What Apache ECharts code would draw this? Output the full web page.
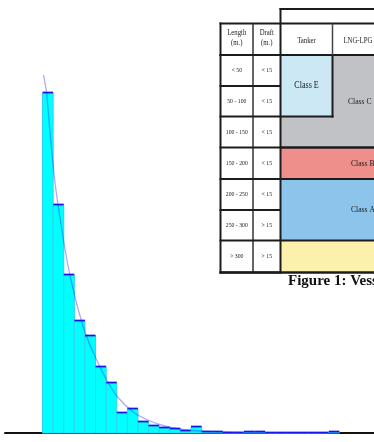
<!DOCTYPE html>
<html>
<head>
<meta charset="utf-8">
<script src="https://cdn.jsdelivr.net/npm/echarts@6/dist/echarts.min.js"></script>
<style>
  html, body { margin: 0; padding: 0; background: #fff; }
  #chart { width: 374px; height: 442px; }
</style>
</head>
<body>
<div id="chart"></div>
<script>
// Histogram bins: left edge of the first bin and bin width (axis units)
const binStart = 3.54;
const binWidth = 1;
const binCounts = [340, 228, 158, 112, 97, 66, 50, 20, 24, 11, 7, 5, 4, 2, 6, 1, 1, 0, 0, 1, 1, 0, 0, 0, 0, 0, 0, 1];

// Fitted density curve, sampled points
const fitX = [3.63, 3.92, 4.25, 4.72, 5.19, 5.82, 6.29, 6.92, 7.71, 8.65, 9.59, 10.54, 12.08, 13.68, 15.25, 17.14, 19.34, 23.11, 27.83, 31.6];
const fitY = [358, 340, 300, 250, 215, 174, 150, 123, 96, 73, 53, 37, 21, 12, 6.5, 3, 1.5, 0.5, 0.2, 0.1];

// Vessel class table
const headerLength = ['Length', '(m.)'];
const headerDraft = ['Draft', '(m.)'];
const headerTypes = ['Tanker', 'LNG-LPG'];
const lengthRanges = ['< 50', '50 - 100', '100 - 150', '150 - 200', '200 - 250', '250 - 300', '> 300'];
const draftRanges = ['< 15', '< 15', '< 15', '< 15', '< 15', '> 15', '> 15'];
const classNames = ['Class E', 'Class C', 'Class B', 'Class A'];
const captionText = 'Figure 1: Vessel classes';

const barData = binCounts.map((c, i) => [binStart + i * binWidth, binStart + (i + 1) * binWidth, c]);
const fitData = fitX.map((x, i) => [x, fitY[i]]);

// ---- table drawing helpers ----
const LINE = '#1c1c1c';
const SERIF = '"Liberation Serif", "DejaVu Serif", serif';
function box(x, y, w, h, fill) {
  return { type: 'rect', z: 100, shape: { x: x, y: y, width: w, height: h }, style: { fill: fill } };
}
function hline(x1, x2, y, w, color) {
  return { type: 'line', z: 102, shape: { x1: x1, y1: y, x2: x2, y2: y }, style: { stroke: color || LINE, lineWidth: w } };
}
function vline(x, y1, y2, w, color) {
  return { type: 'line', z: 102, shape: { x1: x, y1: y1, x2: x, y2: y2 }, style: { stroke: color || LINE, lineWidth: w } };
}
function label(x, y, text, size, opts) {
  opts = opts || {};
  return {
    type: 'text', z: 104, x: x, y: y, scaleX: opts.scaleX || 0.9,
    style: {
      text: text, x: 0, y: 0,
      font: (opts.bold ? 'bold ' : '') + size + 'px ' + SERIF,
      fill: opts.color || '#1a1a1a',
      align: opts.align || 'center', verticalAlign: 'middle'
    }
  };
}

const rowY = [55, 86, 116.5, 147.5, 179, 210, 240.5, 272.5];

const tableEls = [];
// backgrounds
tableEls.push(box(219, 8, 161, 266, '#ffffff'));
tableEls.push(box(280.5, 55, 100, 92.5, '#c1c2c6'));          // Class C
tableEls.push(box(280.5, 55, 52, 61.5, '#cce8f4'));           // Class E
tableEls.push(box(280.5, 147.5, 100, 31.5, '#ef8f8b'));       // Class B
tableEls.push(box(280.5, 179, 100, 61.5, '#8dc4eb'));         // Class A
tableEls.push(box(280.5, 240.5, 100, 32, '#fbf1ac'));         // largest class
// frame lines
tableEls.push(hline(279.5, 380, 9, 2));
tableEls.push(vline(280.5, 8, 273.5, 2));
tableEls.push(hline(219.5, 380, 23.5, 2));
tableEls.push(hline(219.5, 380, 55, 2));
tableEls.push(vline(220.5, 22.5, 273.5, 2));
tableEls.push(vline(253, 23.5, 272.5, 1.5, '#333'));
tableEls.push(vline(332.5, 23.5, 55, 1.5, '#444'));
rowY.forEach(y => tableEls.push(hline(219.5, 281, y, 2)));
tableEls.push(vline(332.5, 55, 117.5, 2));
tableEls.push(hline(280.5, 333.5, 116.5, 2));
tableEls.push(hline(280.5, 380, 147.5, 2.5));
tableEls.push(hline(280.5, 380, 179, 2));
tableEls.push(hline(280.5, 380, 240.5, 2));
tableEls.push(hline(219.5, 380, 272.5, 2.5));
// header texts
tableEls.push(label(236.8, 33.5, headerLength[0], 7.5));
tableEls.push(label(236.8, 43.5, headerLength[1], 7.5));
tableEls.push(label(266.8, 33.5, headerDraft[0], 7.5));
tableEls.push(label(266.8, 43.5, headerDraft[1], 7.5));
tableEls.push(label(306.5, 41, headerTypes[0], 7.5));
tableEls.push(label(343.5, 41, headerTypes[1], 7.5, { align: 'left' }));
// row texts
lengthRanges.forEach((t, i) => {
  const cy = (rowY[i] + rowY[i + 1]) / 2;
  tableEls.push(label(236.8, cy, t, 7, { scaleX: 0.82 }));
  tableEls.push(label(266.8, cy, draftRanges[i], 7, { scaleX: 0.82 }));
});
// class names
tableEls.push(label(306.5, 85, classNames[0], 9.5, { scaleX: 0.85 }));
tableEls.push(label(348, 101.5, classNames[1], 9, { align: 'left', scaleX: 0.85 }));
tableEls.push(label(351, 163.5, classNames[2], 9, { align: 'left', scaleX: 0.85 }));
tableEls.push(label(351, 210, classNames[3], 9, { align: 'left', scaleX: 0.85 }));
// caption
tableEls.push(label(288, 281.5, captionText, 14, { align: 'left', bold: true, scaleX: 1.07, color: '#111' }));

const chart = echarts.init(document.getElementById('chart'), null, { renderer: 'canvas' });
chart.setOption({
  animation: false,
  backgroundColor: '#ffffff',
  grid: { left: 5, right: 0, top: 73, bottom: 9 },
  xAxis: {
    type: 'value', min: 0, max: 34.8,
    axisLine: { show: true, onZero: false, lineStyle: { color: '#111', width: 2 } },
    axisTick: { show: false }, axisLabel: { show: false }, splitLine: { show: false }
  },
  yAxis: {
    type: 'value', min: 0, max: 360,
    axisLine: { show: false }, axisTick: { show: false }, axisLabel: { show: false }, splitLine: { show: false }
  },
  series: [
    {
      type: 'custom',
      z: 2,
      data: barData,
      renderItem: function (params, api) {
        const top = api.coord([api.value(0), api.value(2)]);
        const base = api.coord([api.value(1), 0]);
        const w = base[0] - top[0];
        const h = base[1] - top[1];
        return {
          type: 'group',
          children: [
            { type: 'rect', shape: { x: top[0], y: top[1], width: w, height: h },
              style: { fill: '#00ffff', stroke: '#2cd2ee', lineWidth: 1 } },
            { type: 'line', shape: { x1: top[0], y1: top[1] - 0.5, x2: base[0], y2: top[1] - 0.5 },
              style: { stroke: '#1414ee', lineWidth: 1.7 } }
          ]
        };
      }
    },
    {
      type: 'line',
      z: 3,
      data: fitData,
      smooth: 0.3,
      showSymbol: false,
      lineStyle: { color: 'rgba(30,30,255,0.38)', width: 1.3 }
    }
  ],
  graphic: { elements: tableEls }
});
</script>
</body>
</html>
